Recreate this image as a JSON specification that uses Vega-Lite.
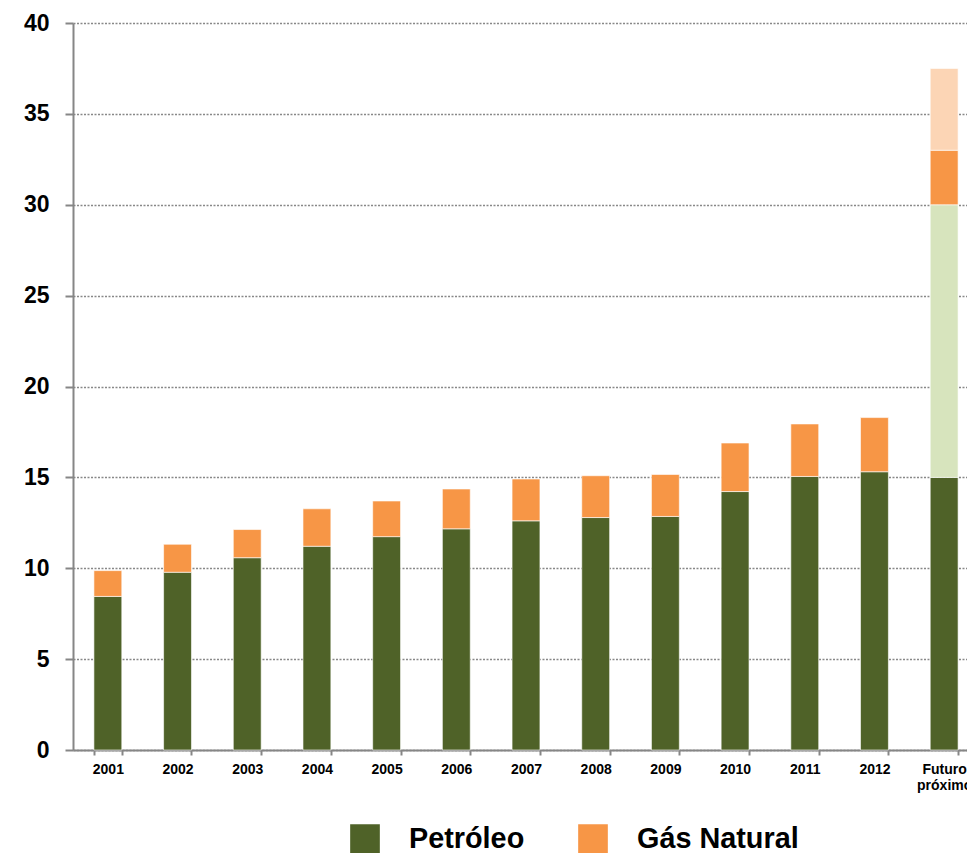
{
  "$schema": "https://vega.github.io/schema/vega-lite/v6.json",
  "width": 894,
  "height": 727,
  "autosize": {"type": "none"},
  "padding": {"left": 73, "top": 23, "right": 0, "bottom": 103},
  "config": {"view": {"stroke": null}, "font": "Liberation Sans"},
  "data": {
    "values": [
      {"ano": "2001", "fonte": "Petróleo", "valor": 8.45, "ordem": 1},
      {"ano": "2001", "fonte": "Gás Natural", "valor": 1.42, "ordem": 3},
      {"ano": "2002", "fonte": "Petróleo", "valor": 9.78, "ordem": 1},
      {"ano": "2002", "fonte": "Gás Natural", "valor": 1.54, "ordem": 3},
      {"ano": "2003", "fonte": "Petróleo", "valor": 10.58, "ordem": 1},
      {"ano": "2003", "fonte": "Gás Natural", "valor": 1.55, "ordem": 3},
      {"ano": "2004", "fonte": "Petróleo", "valor": 11.21, "ordem": 1},
      {"ano": "2004", "fonte": "Gás Natural", "valor": 2.06, "ordem": 3},
      {"ano": "2005", "fonte": "Petróleo", "valor": 11.74, "ordem": 1},
      {"ano": "2005", "fonte": "Gás Natural", "valor": 1.96, "ordem": 3},
      {"ano": "2006", "fonte": "Petróleo", "valor": 12.17, "ordem": 1},
      {"ano": "2006", "fonte": "Gás Natural", "valor": 2.19, "ordem": 3},
      {"ano": "2007", "fonte": "Petróleo", "valor": 12.61, "ordem": 1},
      {"ano": "2007", "fonte": "Gás Natural", "valor": 2.3, "ordem": 3},
      {"ano": "2008", "fonte": "Petróleo", "valor": 12.79, "ordem": 1},
      {"ano": "2008", "fonte": "Gás Natural", "valor": 2.3, "ordem": 3},
      {"ano": "2009", "fonte": "Petróleo", "valor": 12.85, "ordem": 1},
      {"ano": "2009", "fonte": "Gás Natural", "valor": 2.31, "ordem": 3},
      {"ano": "2010", "fonte": "Petróleo", "valor": 14.22, "ordem": 1},
      {"ano": "2010", "fonte": "Gás Natural", "valor": 2.67, "ordem": 3},
      {"ano": "2011", "fonte": "Petróleo", "valor": 15.05, "ordem": 1},
      {"ano": "2011", "fonte": "Gás Natural", "valor": 2.89, "ordem": 3},
      {"ano": "2012", "fonte": "Petróleo", "valor": 15.31, "ordem": 1},
      {"ano": "2012", "fonte": "Gás Natural", "valor": 2.98, "ordem": 3},
      {"ano": "Futuro próximo", "fonte": "Petróleo", "valor": 15, "ordem": 1},
      {"ano": "Futuro próximo", "fonte": "Petróleo (futuro)", "valor": 15, "ordem": 2},
      {"ano": "Futuro próximo", "fonte": "Gás Natural", "valor": 3, "ordem": 3},
      {"ano": "Futuro próximo", "fonte": "Gás Natural (futuro)", "valor": 4.5, "ordem": 4}
    ]
  },
  "mark": {"type": "bar", "stroke": "#ffffff", "strokeOpacity": 0.6, "strokeWidth": 1},
  "encoding": {
    "x": {
      "field": "ano",
      "type": "nominal",
      "sort": null,
      "scale": {"range": [0, 906], "paddingInner": 0.6, "paddingOuter": 0.3},
      "axis": {
        "title": null,
        "labelAngle": 0,
        "labelFontSize": 14,
        "labelFontWeight": "bold",
        "labelColor": "#000000",
        "labelPadding": 7,
        "labelLineHeight": 16,
        "labelExpr": "datum.label == 'Futuro próximo' ? ['Futuro', 'próximo'] : datum.label",
        "domainColor": "#868686",
        "domainWidth": 2,
        "tickColor": "#868686",
        "tickWidth": 2,
        "tickSize": 5,
        "tickBand": "extent"
      }
    },
    "y": {
      "field": "valor",
      "type": "quantitative",
      "stack": "zero",
      "scale": {"domain": [0, 40], "nice": false},
      "axis": {
        "title": null,
        "values": [0, 5, 10, 15, 20, 25, 30, 35, 40],
        "grid": true,
        "gridColor": "#888888",
        "gridDash": [2, 1.5],
        "gridWidth": 1.3,
        "domainColor": "#868686",
        "domainWidth": 2,
        "tickColor": "#868686",
        "tickWidth": 2,
        "tickSize": 8,
        "labelFontSize": 23,
        "labelFontWeight": "bold",
        "labelColor": "#000000",
        "labelPadding": 16
      }
    },
    "color": {
      "field": "fonte",
      "type": "nominal",
      "scale": {
        "domain": ["Petróleo", "Petróleo (futuro)", "Gás Natural", "Gás Natural (futuro)"],
        "range": ["#4F6228", "#D7E4BD", "#F79646", "#FCD5B5"]
      },
      "legend": {
        "values": ["Petróleo", "Gás Natural"],
        "title": null,
        "orient": "none",
        "direction": "horizontal",
        "legendX": 277,
        "legendY": 801,
        "symbolType": "square",
        "symbolSize": 880,
        "symbolStrokeWidth": 0,
        "symbolOpacity": 1,
        "labelFontSize": 28.8,
        "labelFontWeight": "bold",
        "labelColor": "#000000",
        "labelOffset": 29,
        "columnPadding": 53,
        "labelLimit": 400
      }
    },
    "order": {"field": "ordem", "type": "quantitative"}
  }
}
